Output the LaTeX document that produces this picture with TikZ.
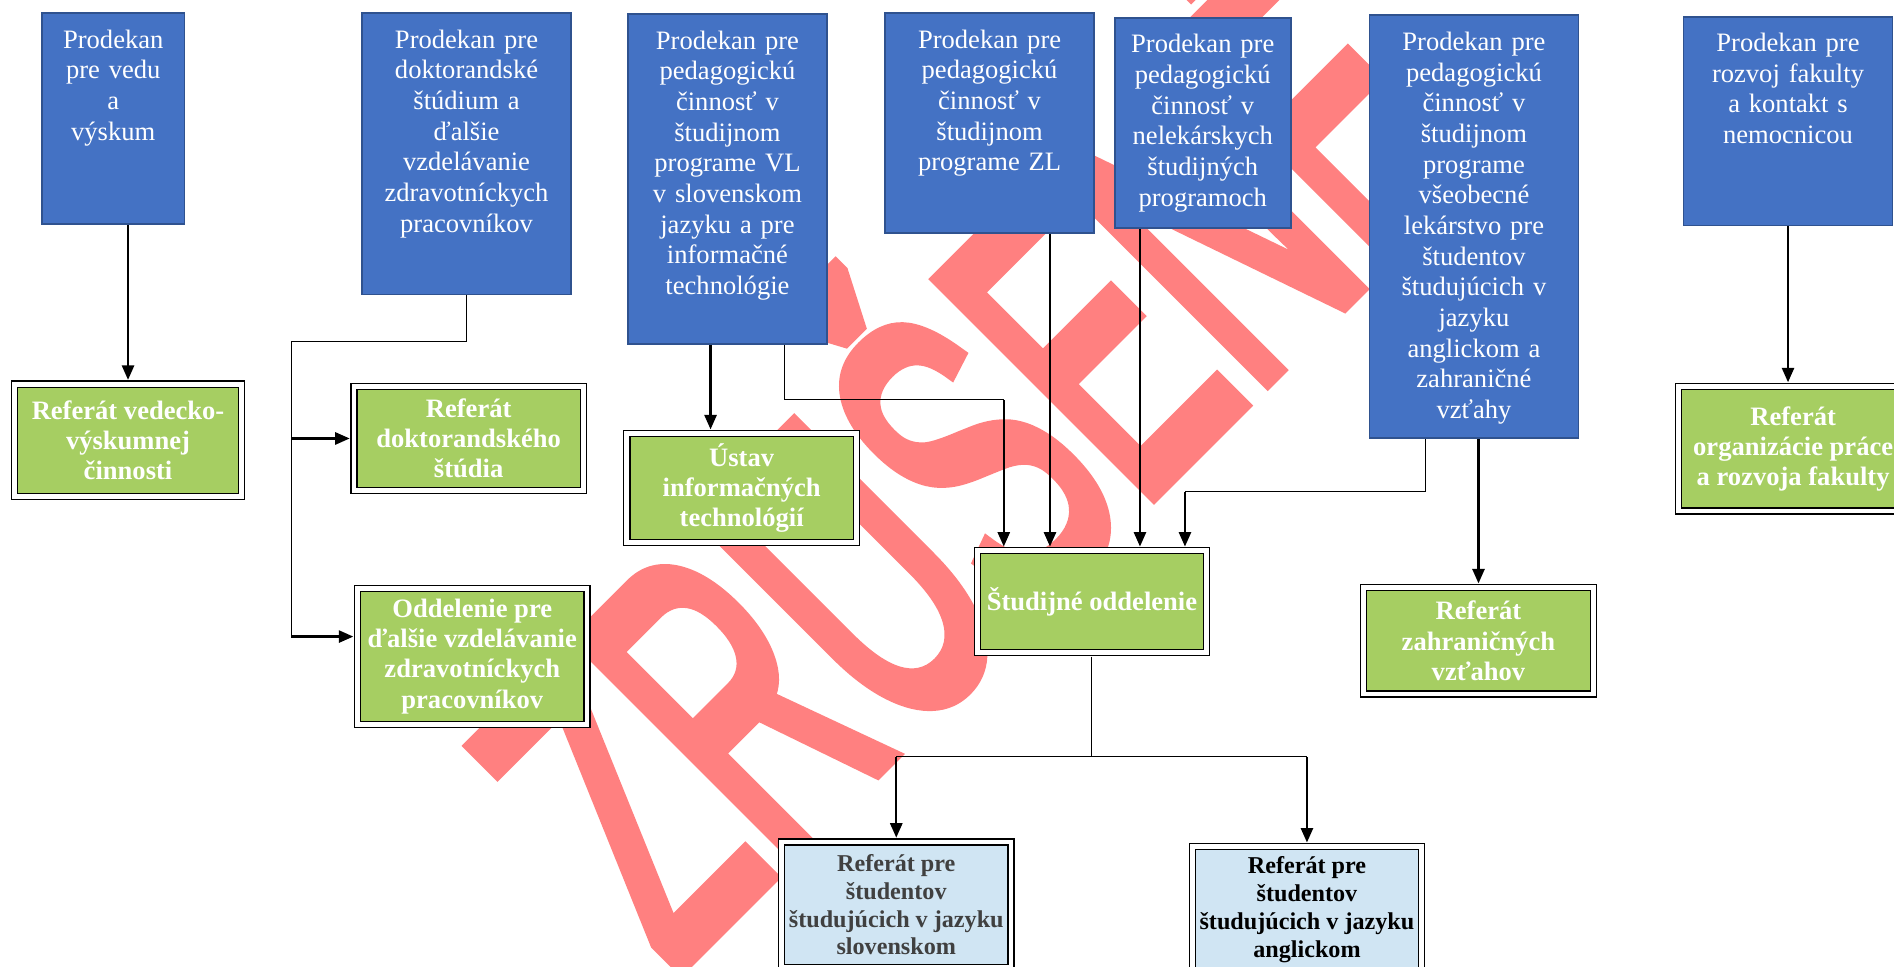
\documentclass[tikz,border=0pt]{standalone}
\usepackage{fontspec}
\usepackage{graphicx}
\setmainfont{Liberation Serif}
\newfontfamily\wmfont[FakeBold=4]{Liberation Sans}
\usetikzlibrary{arrows.meta}
\definecolor{dekanblue}{RGB}{68,114,196}
\definecolor{dekanedge}{RGB}{47,82,143}
\definecolor{refgreen}{RGB}{166,206,98}
\definecolor{reflight}{RGB}{208,229,243}
\definecolor{wmred}{RGB}{255,128,128}
\begin{document}
\begin{tikzpicture}[x=1pt, y=1pt,
  >={Triangle[length=12pt,width=10pt]},
  dekan/.style 2 args={draw=dekanedge, fill=dekanblue, line width=1.5pt, text=white,
    anchor=north west, inner xsep=3pt, inner ysep=0pt, align=center,
    text width=#1, text height=29pt, text depth=#2,
    font=\fontsize{22}{25.4}\selectfont},
  referat/.style 2 args={draw=black, line width=1pt, double=white, double distance=4pt,
    fill=refgreen, text=white, align=center, minimum width=#1, minimum height=#2,
    inner sep=0pt, outer sep=3.5pt, font=\bfseries\fontsize{22}{25}\selectfont},
  studref/.style 2 args={referat={#1}{#2}, fill=reflight,
    font=\bfseries\fontsize{20}{23}\selectfont},
  spoj/.style={line width=0.8pt},
  sipka/.style={->, line width=2pt}]
\useasboundingbox (0,0) rectangle (1568,-800);
\clip (0,0) rectangle (1568,-800);
\fill[white] (0,0) rectangle (1568,-800);
\node[rotate=45, anchor=base west, inner sep=0pt, text=wmred,
  font=\wmfont\fontsize{363}{400}\selectfont] (zrusene) at (557,-806)
  {\scalebox{0.55}[1]{ZRUŠENÉ}};

\node[dekan={112pt}{146pt}] (vedu) at (34,-10) {Prodekan\\pre vedu\\a\\výskum};
\node[dekan={167pt}{204pt}] (doktor) at (299,-10)
  {Prodekan pre\\doktorandské\\štúdium a\\ďalšie\\vzdelávanie\\zdravotníckych\\pracovníkov};
\node[dekan={159pt}{244pt}] (pedvl) at (519,-11)
  {Prodekan pre\\pedagogickú\\činnosť v\\študijnom\\programe VL\\v slovenskom\\jazyku a pre\\informačné\\technológie};
\node[dekan={167pt}{153pt}] (pedzl) at (732,-10)
  {Prodekan pre\\pedagogickú\\činnosť v\\študijnom\\programe ZL};
\node[dekan={140pt}{145pt}] (nelek) at (922,-14)
  {Prodekan pre\\pedagogickú\\činnosť v\\nelekárskych\\študijných\\programoch};
\node[dekan={167pt}{321pt}] (vlang) at (1133,-12)
  {Prodekan pre\\pedagogickú\\činnosť v\\študijnom\\programe\\všeobecné\\lekárstvo pre\\študentov\\študujúcich v\\jazyku\\anglickom a\\zahraničné\\vzťahy};
\node[dekan={167pt}{144pt}] (rozvoj) at (1393,-13)
  {Prodekan pre\\rozvoj fakulty\\a kontakt s\\nemocnicou};

\node[referat={188pt}{93pt}] (vedecko) at (106,-364.5) {Referát vedecko-\\výskumnej\\činnosti};
\node[referat={190pt}{86pt}] (doktref) at (388,-363) {Referát\\doktorandského\\štúdia};
\node[referat={190pt}{90pt}] (ustav) at (614,-404) {Ústav\\informačných\\technológií};
\node[referat={190pt}{113pt}] (oddel) at (391,-543.5)
  {Oddelenie pre\\ďalšie vzdelávanie\\zdravotníckych\\pracovníkov};
\node[referat={190pt}{84pt}] (studij) at (904,-498) {Študijné oddelenie};
\node[referat={190pt}{88pt}] (zahr) at (1224,-530.5) {Referát\\zahraničných\\vzťahov};
\node[referat={190pt}{103pt}] (organiz) at (1484.5,-371.5)
  {Referát\\organizácie práce\\a rozvoja fakulty};
\node[studref={190pt}{104pt}, text=black!75] (slov) at (742,-749)
  {Referát pre\\študentov\\študujúcich v jazyku\\slovenskom};
\node[studref={190pt}{104pt}, text=black] (angl) at (1082,-753)
  {Referát pre\\študentov\\študujúcich v jazyku\\anglickom};

\draw[sipka] (vedecko.north |- vedu.south) -- (vedecko.north);
\coordinate (dokbend) at (241,-283);
\coordinate (oddin) at ([yshift=16.5pt]oddel.west);
\draw[spoj] (doktor.south) |- (dokbend) -- (dokbend |- oddin);
\draw[sipka] (dokbend |- doktref.west) -- (doktref.west);
\draw[sipka] (dokbend |- oddin) -- (oddin);
\draw[sipka] ([xshift=-14pt]pedvl.south) -- ([xshift=-14pt]pedvl.south |- ustav.north);
\coordinate (vlbend) at (831,-331);
\draw[spoj] ([xshift=47pt]pedvl.south) |- (vlbend);
\draw[sipka] (vlbend) -- (vlbend |- studij.north);
\draw[sipka] ([xshift=50pt]pedzl.south) -- ([xshift=50pt]pedzl.south |- studij.north);
\draw[sipka] ([xshift=-52pt]nelek.south) -- ([xshift=-52pt]nelek.south |- studij.north);
\coordinate (langbend) at (981,-407);
\draw[spoj] ([xshift=-40pt]vlang.south) |- (langbend);
\draw[sipka] (langbend) -- (langbend |- studij.north);
\draw[sipka] (vlang.south -| zahr.north) -- (zahr.north);
\draw[sipka] (rozvoj.south) -- (rozvoj.south |- organiz.north);
\draw[spoj] (studij.south) -- ++(0,-83) coordinate (stbend);
\draw[spoj] (slov.north |- stbend) -- (angl.north |- stbend);
\draw[sipka] (slov.north |- stbend) -- (slov.north);
\draw[sipka] (angl.north |- stbend) -- (angl.north);
\end{tikzpicture}
\end{document}
